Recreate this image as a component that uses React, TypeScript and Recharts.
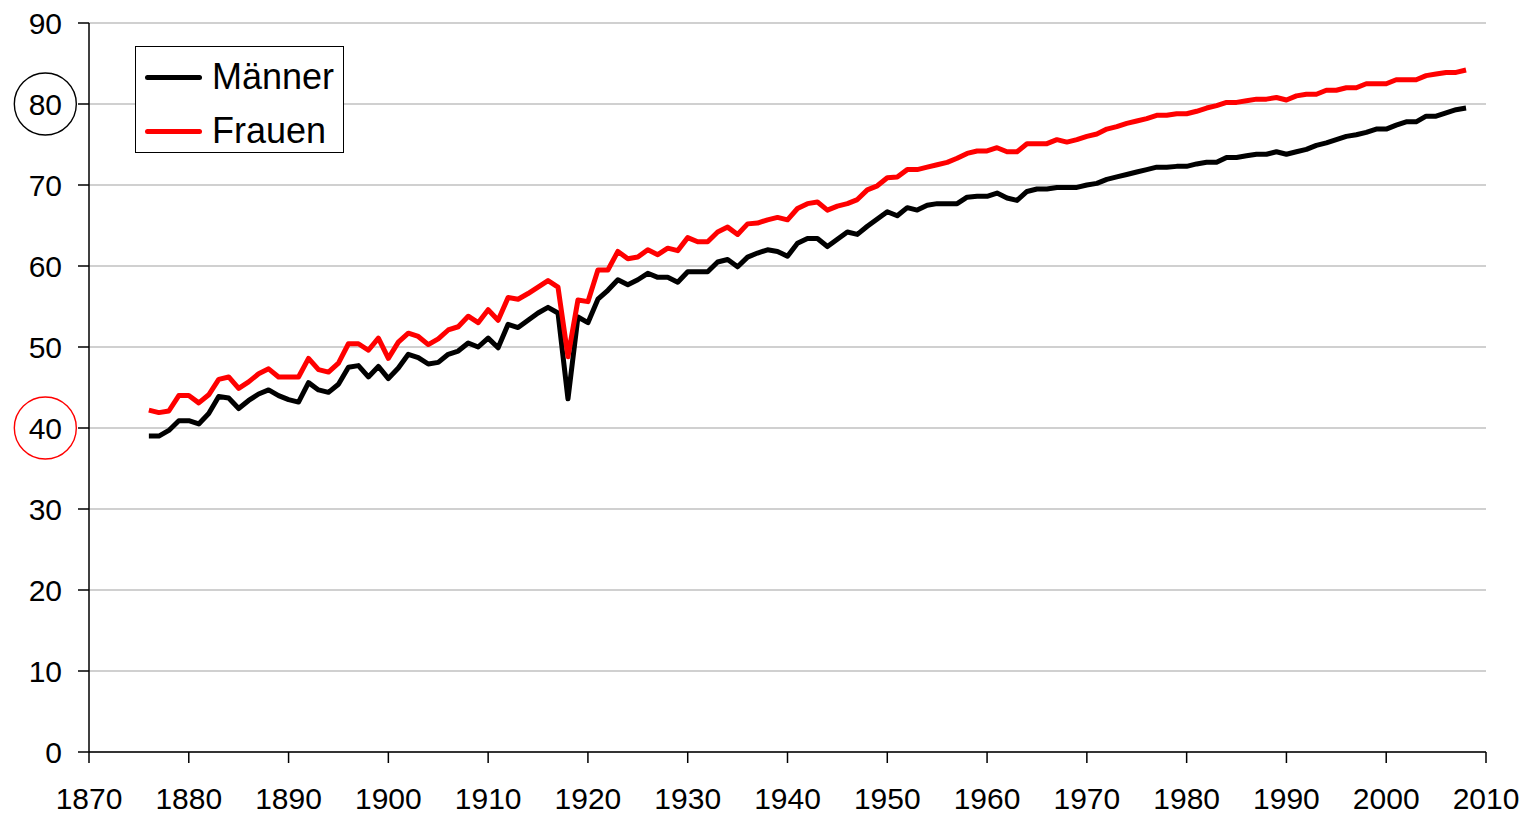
import { CartesianGrid, Legend, Line, LineChart, XAxis, YAxis } from "recharts";

const startYear = 1876;

// Lebenserwartung bei Geburt, 1876-2008
const maenner = [
    39.0, 39.0, 39.7, 40.9,
    40.9, 40.5, 41.8, 43.9, 43.7, 42.4, 43.4, 44.2, 44.7, 44.0,
    43.5, 43.2, 45.6, 44.7, 44.4, 45.4, 47.5, 47.7, 46.3, 47.6,
    46.1, 47.4, 49.1, 48.7, 47.9, 48.1, 49.1, 49.5, 50.5, 50.0,
    51.1, 49.9, 52.8, 52.4, 53.3, 54.2, 54.9, 54.2, 43.6, 53.7,
    53.0, 55.9, 57.0, 58.3, 57.7, 58.3, 59.1, 58.6, 58.6, 58.0,
    59.3, 59.3, 59.3, 60.5, 60.8, 59.9, 61.1, 61.6, 62.0, 61.8,
    61.2, 62.8, 63.4, 63.4, 62.4, 63.3, 64.2, 63.9, 64.9, 65.8,
    66.7, 66.2, 67.2, 66.9, 67.5, 67.7, 67.7, 67.7, 68.5, 68.6,
    68.6, 69.0, 68.4, 68.1, 69.2, 69.5, 69.5, 69.7, 69.7, 69.7,
    70.0, 70.2, 70.7, 71.0, 71.3, 71.6, 71.9, 72.2, 72.2, 72.3,
    72.3, 72.6, 72.8, 72.8, 73.4, 73.4, 73.6, 73.8, 73.8, 74.1,
    73.8, 74.1, 74.4, 74.9, 75.2, 75.6, 76.0, 76.2, 76.5, 76.9,
    76.9, 77.4, 77.8, 77.8, 78.5, 78.5, 78.9, 79.3, 79.5,
];

const frauen = [
    42.2, 41.9, 42.1, 44.0,
    44.0, 43.1, 44.1, 46.0, 46.3, 44.9, 45.7, 46.7, 47.3, 46.3,
    46.3, 46.3, 48.6, 47.2, 46.9, 48.0, 50.4, 50.4, 49.6, 51.1,
    48.6, 50.6, 51.7, 51.3, 50.3, 51.0, 52.1, 52.5, 53.8, 53.0,
    54.6, 53.3, 56.1, 55.9, 56.6, 57.4, 58.2, 57.4, 48.8, 55.8,
    55.6, 59.5, 59.5, 61.8, 60.9, 61.1, 62.0, 61.4, 62.2, 61.9,
    63.5, 63.0, 63.0, 64.2, 64.8, 63.9, 65.2, 65.3, 65.7, 66.0,
    65.7, 67.1, 67.7, 67.9, 66.9, 67.4, 67.7, 68.2, 69.4, 69.9,
    70.9, 71.0, 71.9, 71.9, 72.2, 72.5, 72.8, 73.3, 73.9, 74.2,
    74.2, 74.6, 74.1, 74.1, 75.1, 75.1, 75.1, 75.6, 75.3, 75.6,
    76.0, 76.3, 76.9, 77.2, 77.6, 77.9, 78.2, 78.6, 78.6, 78.8,
    78.8, 79.1, 79.5, 79.8, 80.2, 80.2, 80.4, 80.6, 80.6, 80.8,
    80.5, 81.0, 81.2, 81.2, 81.7, 81.7, 82.0, 82.0, 82.5, 82.5,
    82.5, 83.0, 83.0, 83.0, 83.5, 83.7, 83.9, 83.9, 84.2,
];

const seriesNames = ["Männer", "Frauen"];

const xTicks = [1870, 1880, 1890, 1900, 1910, 1920, 1930, 1940, 1950, 1960, 1970, 1980, 1990, 2000, 2010];
const yTicks = [0, 10, 20, 30, 40, 50, 60, 70, 80, 90];

// tick labels marked with a circle
const circled: Record<number, string> = { 80: "#000000", 40: "#ff0000" };

const data = maenner.map((m, i) => ({ year: startYear + i, maenner: m, frauen: frauen[i] }));

const FONT = "'Liberation Sans', Arial, sans-serif";
const TICK_SIZE = 30;

function YTick(props: any) {
    const { x, y, payload } = props;
    const v = payload.value;
    const label = String(v);
    const w = label.length * 0.556 * TICK_SIZE;
    return (
        <g>
            <text x={x} y={y} dy="0.355em" textAnchor="end" fontSize={TICK_SIZE} fontFamily={FONT} fill="#000">
                {label}
            </text>
            {circled[v] && (
                <circle cx={x - w / 2} cy={y} r={31} fill="none" stroke={circled[v]} strokeWidth={1.4} />
            )}
        </g>
    );
}

function LegendBox(props: any) {
    const items = [...(props.payload || [])].sort(
        (a: any, b: any) => seriesNames.indexOf(a.value) - seriesNames.indexOf(b.value)
    );
    return (
        <div
            style={{
                width: 207,
                height: 105,
                border: "1.5px solid #000",
                background: "#fff",
                fontFamily: FONT,
                fontSize: 36,
                position: "relative",
            }}
        >
            {items.map((item: any, i: number) => (
                <div key={item.value} style={{ position: "absolute", left: 9, top: 9 + i * 54, height: 42, display: "flex", alignItems: "center" }}>
                    <div style={{ width: 57, height: 5, background: item.color, borderRadius: 3 }} />
                    <span style={{ marginLeft: 10, color: "#000", lineHeight: "42px" }}>{item.value}</span>
                </div>
            ))}
        </div>
    );
}

export default function App() {
    return (
        <LineChart width={1517} height={807} data={data} margin={{ top: 15, right: 39, left: 0, bottom: 0 }}>
            <CartesianGrid vertical={false} stroke="#c0c0c0" strokeWidth={1.5} />
            <XAxis
                dataKey="year"
                type="number"
                domain={[1870, 2010]}
                ticks={xTicks}
                height={63}
                stroke="#000"
                strokeWidth={1.5}
                tickSize={11}
                tickMargin={25}
                tick={{ fontSize: TICK_SIZE, fontFamily: FONT, fill: "#000" }}
                interval={0}
            />
            <YAxis
                type="number"
                domain={[0, 90]}
                ticks={yTicks}
                width={81}
                stroke="#000"
                strokeWidth={1.5}
                tickSize={11}
                tickMargin={16}
                tick={<YTick />}
                interval={0}
            />
            <Legend
                layout="horizontal"
                verticalAlign="middle"
                align="center"
                content={<LegendBox />}
                wrapperStyle={{ left: 127, top: 38, width: "auto" }}
            />
            <Line
                name="Männer"
                dataKey="maenner"
                stroke="#000000"
                strokeWidth={5}
                dot={false}
                strokeLinejoin="round"
                isAnimationActive={false}
            />
            <Line
                name="Frauen"
                dataKey="frauen"
                stroke="#ff0000"
                strokeWidth={5}
                dot={false}
                strokeLinejoin="round"
                isAnimationActive={false}
            />
        </LineChart>
    );
}
